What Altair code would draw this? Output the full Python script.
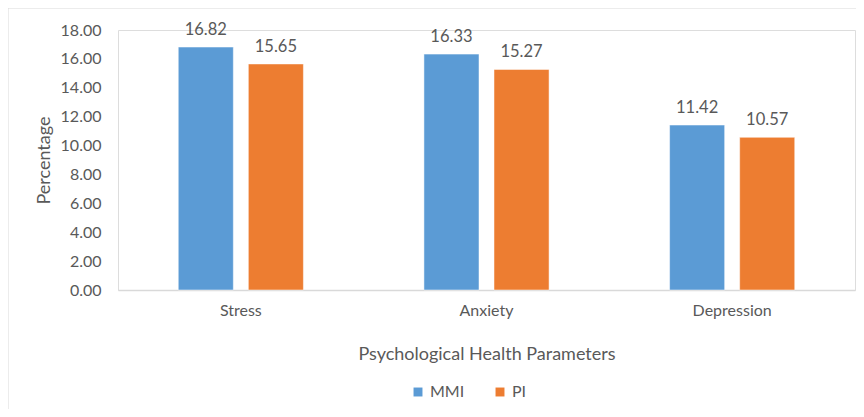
import altair as alt
import pandas as pd

categories = ["Stress", "Anxiety", "Depression"]
mmi = [16.82, 16.33, 11.42]
pi = [15.65, 15.27, 10.57]
series = ["MMI", "PI"]
colors = ["#5B9BD5", "#ED7D31"]
y_ticks = [0, 2, 4, 6, 8, 10, 12, 14, 16, 18]

rows = []
for c, a, b in zip(categories, mmi, pi):
    rows.append({"cat": c, "series": "MMI", "value": a})
    rows.append({"cat": c, "series": "PI", "value": b})
df = pd.DataFrame(rows)

FONT = "Lato"
GREY = "#595959"

x = alt.X("cat:N", sort=categories, title="Psychological Health Parameters",
          scale=alt.Scale(paddingInner=0, paddingOuter=0),
          axis=alt.Axis(labelAngle=0, ticks=False, domainColor="#d9d9d9", domainWidth=1.5,
                        labelPadding=12, titlePadding=27, labelFontSize=16,
                        titleFontSize=18, labelColor=GREY, titleColor=GREY,
                        labelFont=FONT, titleFont=FONT, titleFontWeight="normal"))
xo = alt.XOffset("series:N", sort=series,
                 scale=alt.Scale(paddingInner=0.214, paddingOuter=0.86))
y = alt.Y("value:Q", title="Percentage",
          scale=alt.Scale(domain=[0, 18], nice=False),
          axis=alt.Axis(values=y_ticks, format=".2f", grid=False, ticks=False, domain=False,
                        labelPadding=17, titlePadding=7, labelFontSize=16, titleFontSize=18,
                        labelColor=GREY, titleColor=GREY, labelFont=FONT, titleFont=FONT,
                        titleFontWeight="normal"))
color = alt.Color("series:N", sort=series, scale=alt.Scale(domain=series, range=colors),
                  legend=alt.Legend(title=None, orient="none", direction="horizontal",
                                    legendX=292, legendY=354, symbolType="square",
                                    symbolSize=80, symbolStrokeWidth=0, labelFontSize=16,
                                    labelColor=GREY, labelFont=FONT, columnPadding=27,
                                    labelOffset=4))

base = alt.Chart(df)
bars = base.mark_bar(stroke="white", strokeWidth=0.5).encode(x=x, xOffset=xo, y=y, color=color)
labels = base.mark_text(dy=-12, baseline="alphabetic", fontSize=16.5, font=FONT, color=GREY).encode(
    x=x, xOffset=xo, y=y, text=alt.Text("value:Q", format=".2f"))

border_df = pd.DataFrame({"k": [0]})
left_border = alt.Chart(border_df).mark_rule(color="#d9d9d9", strokeWidth=1).encode(
    x=alt.value(-110), y=alt.value(-22), y2=alt.value(400))
top_border = alt.Chart(border_df).mark_rule(color="#d9d9d9", strokeWidth=1).encode(
    x=alt.value(-110), x2=alt.value(760), y=alt.value(-22))

chart = alt.layer(bars, labels, left_border, top_border).properties(
    width=737, height=260,
    autosize=alt.AutoSizeParams(type="none"),
    padding={"left": 110, "top": 22, "right": 1, "bottom": 119},
).configure_view(stroke=None).configure(background="white")

chart.save("out.html", embed_options={"renderer": "svg", "actions": False})
